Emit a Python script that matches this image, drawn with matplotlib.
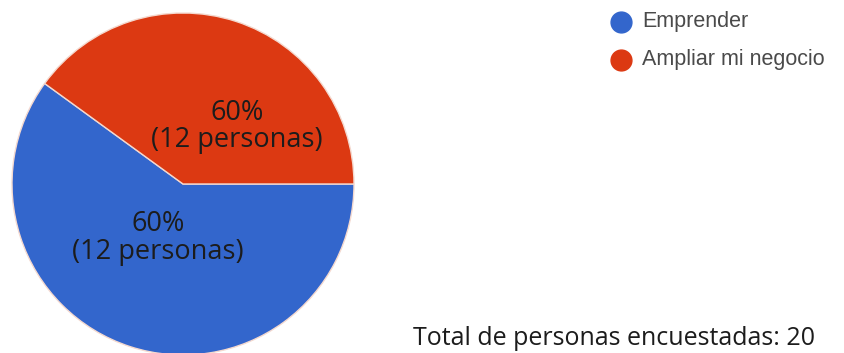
import matplotlib

matplotlib.use("Agg")
import matplotlib.pyplot as plt

# ── Data ──────────────────────────────────────────────
categories = ["Emprender", "Ampliar mi negocio"]
shares = [60, 40]
slice_labels = ["60%\n(12 personas)", "60%\n(12 personas)"]
colors = ["#3366CC", "#DC3912"]
total_text = "Total de personas encuestadas: 20"

W, H = 844, 353
fig = plt.figure(figsize=(W / 100, H / 100), dpi=100)

# pie axes: centre (183, 184) px, radius 171 px
cx, cy, r = 183, 184, 171
ax = fig.add_axes([(cx - r) / W, (H - cy - r) / H, 2 * r / W, 2 * r / H])
ax.pie(
    shares,
    colors=colors,
    startangle=144,
    counterclock=True,
    radius=1,
    wedgeprops=dict(edgecolor="#f4d9cf", linewidth=1.0),
)
ax.set_xlim(-1, 1)
ax.set_ylim(-1, 1)
ax.set_aspect("equal")
ax.axis("off")

# slice labels
label_pos = [(-0.146, -0.316), (0.316, 0.336)]
for (x, y), txt in zip(label_pos, slice_labels):
    ax.text(x, y, txt, ha="center", va="center", fontsize=19.5,
            family="Open Sans", color="#1c1c1c", linespacing=0.98)

# overlay in pixel coords for legend + footer
ov = fig.add_axes([0, 0, 1, 1])
ov.set_xlim(0, W)
ov.set_ylim(H, 0)
ov.axis("off")

# legend
for i, (name, c) in enumerate(zip(categories, colors)):
    y = 22 + i * 38
    ov.plot(621, y, marker="o", markersize=15, color=c, linestyle="none")
    ov.text(642, y, name, ha="left", va="center", fontsize=15.5,
            family="Liberation Sans", color="#4a4a4a")

ov.text(413, 345, total_text, ha="left", va="baseline",
        fontsize=18, family="Open Sans", color="#1c1c1c")

fig.savefig("out.png", dpi=100)
